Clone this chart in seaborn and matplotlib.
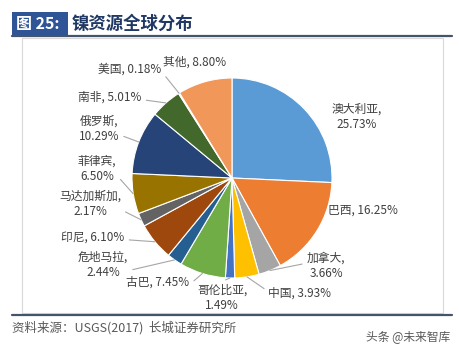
import numpy as np
import seaborn as sns
import matplotlib.pyplot as plt
from matplotlib.patches import Rectangle

sns.set_theme(style="white")
plt.rcParams['font.family'] = ['Noto Sans CJK SC', 'DejaVu Sans']

# Data
countries = ['澳大利亚', '巴西', '加拿大', '中国', '哥伦比亚', '古巴', '危地马拉',
             '印尼', '马达加斯加', '菲律宾', '俄罗斯', '南非', '美国', '其他']
shares = [25.73, 16.25, 3.66, 3.93, 1.49, 7.45, 2.44,
          6.10, 2.17, 6.50, 10.29, 5.01, 0.18, 8.80]
colors = ['#5B9BD5', '#ED7D31', '#A5A5A5', '#FFC000', '#4472C4', '#70AD47', '#255E91',
          '#9E480E', '#636363', '#997300', '#264478', '#43682B', '#7CAFDD', '#F1975A']

# label layout (pixel positions of label centres, line breaks, leader line)
label_pos = {
    '澳大利亚': (357, 117, True, False),
    '巴西': (363, 210, False, False),
    '加拿大': (326, 266, True, True),
    '中国': (300, 293, False, True),
    '哥伦比亚': (222, 298, True, True),
    '古巴': (158, 282, False, True),
    '危地马拉': (103, 265, True, True),
    '印尼': (93, 237, False, True),
    '马达加斯加': (90, 204, True, True),
    '菲律宾': (97, 169, True, True),
    '俄罗斯': (99, 129, True, True),
    '南非': (110, 97, False, True),
    '美国': (130, 69, False, True),
    '其他': (195, 62, False, False),
}

W, H = 459, 354
CX, CY, R = 232, 178, 100


def Y(py):
    return H - py


fig = plt.figure(figsize=(W / 100, H / 100), dpi=100)
ax = fig.add_axes([0, 0, 1, 1])

wedges, _ = ax.pie(shares, colors=colors, startangle=90, counterclock=False,
                   center=(CX, Y(CY)), radius=R, frame=True,
                   wedgeprops=dict(edgecolor='white', linewidth=0.8))

text_color = '#404040'
line_color = '#A6A6A6'
for w, name, val in zip(wedges, countries, shares):
    px, py, two_lines, leader = label_pos[name]
    sep = ',\n' if two_lines else ', '
    txt = f'{name}{sep}{val:.2f}%'
    mid = np.deg2rad((w.theta1 + w.theta2) / 2)
    ex = CX + R * np.cos(mid)
    ey = Y(CY) + R * np.sin(mid)
    if leader:
        if px < CX - 40:
            rel = (1.0, 0.3)
        elif px > CX + 40:
            rel = (0.0, 0.6)
        elif py < CY:
            rel = (0.5, 0.0)
        else:
            rel = (0.0, 0.7)
        ax.annotate(txt, xy=(ex, ey), xytext=(px, Y(py)), ha='center', va='center',
                    fontsize=8.5, color=text_color, linespacing=1.25,
                    arrowprops=dict(arrowstyle='-', color=line_color, lw=0.8,
                                    relpos=rel, shrinkA=1, shrinkB=0))
    else:
        ax.text(px, Y(py), txt, ha='center', va='center', fontsize=8.5,
                color=text_color, linespacing=1.25)

ax.set_xlim(0, W)
ax.set_ylim(0, H)
ax.set_aspect('equal')
ax.axis('off')

# chart frame
ax.add_patch(Rectangle((22, Y(313)), 421, 275, fill=False, edgecolor='#D9D9D9', lw=0.8))

# header
navy = '#2F5597'
ax.add_patch(Rectangle((12, Y(35)), 56, 23, facecolor=navy, edgecolor='none'))
ax.text(16, Y(24), '图 25:', color='white', fontsize=11.5, fontweight='bold',
        va='center', ha='left')
ax.text(72, Y(24), '镍资源全球分布', color='#1F3864', fontsize=12.5,
        fontweight='bold', va='center', ha='left')
ax.plot([12, 452], [Y(35.5), Y(35.5)], color='#44546A', lw=1.6)
ax.plot([12, 452], [Y(314.5), Y(314.5)], color='#44546A', lw=1.6)

# footer
ax.text(12, Y(328), '资料来源：USGS(2017)  长城证券研究所', color='#595959',
        fontsize=9, style='italic', va='center', ha='left')
ax.text(450, Y(338), '头条 @未来智库', color='#595959', fontsize=8.5,
        va='center', ha='right')

fig.savefig('out.png', dpi=100)
